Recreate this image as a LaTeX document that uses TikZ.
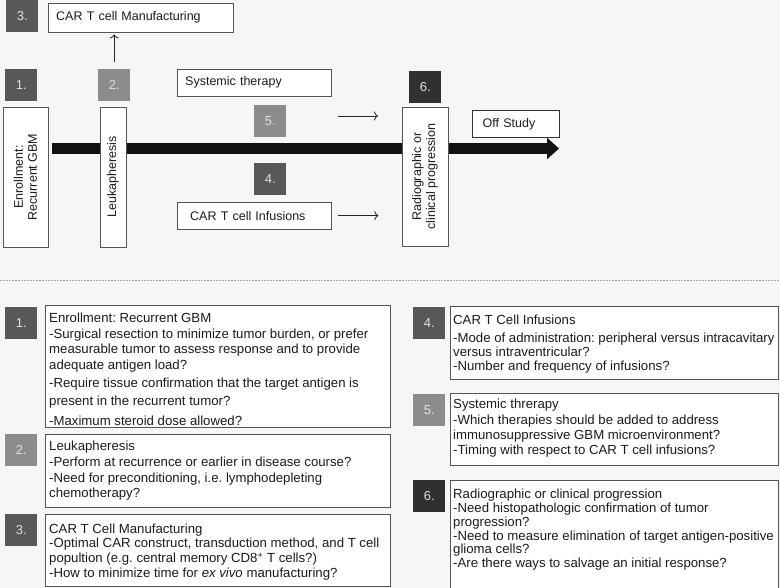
\documentclass[tikz,border=0pt]{standalone}
\usepackage{fontspec}
\setmainfont{Liberation Sans}
\usepackage{xcolor}
\usetikzlibrary{positioning,arrows.meta}
\definecolor{bgcol}{HTML}{F6F6F6}
\definecolor{sqdark}{HTML}{585858}
\definecolor{sqmid}{HTML}{8C8C8C}
\definecolor{sqblack}{HTML}{303030}
\definecolor{edgecol}{HTML}{555555}
\definecolor{txtcol}{HTML}{1C1C1C}
\pgfdeclarelayer{canvas}
\pgfdeclarelayer{behind}
\pgfsetlayers{canvas,behind,main}
\frenchspacing

\begin{document}
\begin{tikzpicture}
      [ x=1pt, y=-1pt,
        every node/.style={text=txtcol},
        numsq/.style={anchor=north west, minimum width=32pt, minimum height=32pt,
                      inner sep=0pt, text=white!88!black,
                      font=\fontsize{13}{15}\selectfont},
        hbox/.style={draw=edgecol, fill=white, anchor=north west, align=left,
                     inner xsep=8pt, inner ysep=0pt,
                     font=\fontsize{12.5}{14}\selectfont},
        vbox/.style={draw=edgecol, fill=white, rotate=90, align=center,
                     inner sep=0pt, font=\fontsize{12.5}{14}\selectfont},
        infobox/.style={draw=edgecol, fill=white, anchor=north west, inner sep=0pt},
        infotext/.style={anchor=north west, inner sep=0pt, align=left,
                         font=\fontsize{13.2}{#1}\selectfont},
        timeline/.style={line width=11pt, draw=black!93,
                         -{Triangle[length=12pt,width=21pt]}},
        thinarrow/.style={line width=0.8pt, draw=black!85,
                          -{To[length=4pt,width=9pt]}}
      ]
      \useasboundingbox (0,0) rectangle (780,588);
      \begin{pgfonlayer}{canvas}
        \fill[bgcol] (0,0) rectangle (780,588);
      \end{pgfonlayer}

      % timeline overview
      \node[numsq, fill=sqdark]   (s3) at (6,0)    {3.};
      \node[hbox, minimum width=185pt, minimum height=29pt, text width=169pt]
                                  (mfg) at (48,3)  {CAR T cell Manufacturing};
      \node[numsq, fill=sqdark]   (s1) at (5,69)   {1.};
      \node[numsq, fill=sqmid]    (s2) at (98,69)  {2.};
      \node[hbox, minimum width=154pt, minimum height=27pt, text width=138pt]
                                  (sys) at (177,69) {Systemic therapy};
      \node[numsq, fill=sqmid]    (s5) at (254,105) {5.};
      \node[numsq, fill=sqdark]   (s4) at (254,163) {4.};
      \node[hbox, minimum width=154pt, minimum height=27pt, text width=138pt]
                                  (inf) at (177,202) {\hspace{5pt}CAR T cell Infusions};
      \node[numsq, fill=sqblack]  (s6) at (409,71)  {6.};

      \node[vbox, minimum width=140pt, minimum height=45pt]
                                  (enroll) at (25.5,177) {Enrollment:\\Recurrent GBM};
      \node[vbox, minimum width=140pt, minimum height=26pt]
                                  (leuk) at (113,177) {Leukapheresis};
      \node[vbox, minimum width=139pt, minimum height=46pt]
                                  (rad) at (425,176.5) {Radiographic or\\clinical progression};
      \node[hbox, draw=black!80, line width=1.4pt, minimum width=87pt,
            minimum height=27pt, text width=67pt, inner xsep=10pt]
                                  (off) at (472,110) {Off Study};

      \coordinate (tip) at (559,148.5);
      \begin{pgfonlayer}{behind}
        \draw[timeline, shorten <=4pt] (enroll.south |- tip) -- (tip);
      \end{pgfonlayer}

      \draw[thinarrow, shorten <=7pt, shorten >=2pt] (s2.north) -- (s2.north |- mfg.south);
      \coordinate (a5) at (338,116);
      \draw[thinarrow] (a5) -- ++(40,0);
      \draw[thinarrow, shorten <=7pt] (inf.east) -- ++(47,0);

      \draw[gray!70, line width=0.6pt, dash pattern=on 1.6pt off 1.4pt] (0,280) -- (780,280);

      % open questions, left column
      \node[numsq, fill=sqdark] (q1) at (5,307) {1.};
      \node[infobox, minimum width=345pt, minimum height=122pt] (b1) at (45,305) {};
      \node[infotext=15.5] (t1) at ([xshift=4pt,yshift=-8pt]b1.north west)
        {Enrollment: Recurrent GBM\\
         -Surgical resection to minimize tumor burden, or prefer\\
         measurable tumor to assess response and to provide\\
         adequate antigen load?\\[2.5pt]
         -Require tissue confirmation that the target antigen is\\[3pt]
         present in the recurrent tumor?\\[4pt]
         -Maximum steroid dose allowed?};

      \node[numsq, fill=sqmid] (q2) at (5,434) {2.};
      \node[infobox, minimum width=345pt, minimum height=73pt] (b2) at (45,434) {};
      \node[infotext=15.7] (t2) at ([xshift=4pt,yshift=-7pt]b2.north west)
        {Leukapheresis\\
         -Perform at recurrence or earlier in disease course?\\
         -Need for preconditioning, i.e. lymphodepleting\\
         chemotherapy?};

      \node[numsq, fill=sqdark] (q3) at (5,514) {3.};
      \node[infobox, minimum width=345pt, minimum height=72pt] (b3) at (45,514) {};
      \node[infotext=14.7] (t3) at ([xshift=4pt,yshift=-9.5pt]b3.north west)
        {CAR T Cell Manufacturing\\
         -Optimal CAR construct, transduction method, and T cell\\
         popultion (e.g. central memory CD8\textsuperscript{+} T cells?)\\
         -How to minimize time for \textit{ex vivo} manufacturing?};

      % open questions, right column
      \node[numsq, fill=sqdark] (q4) at (413,307) {4.};
      \node[infobox, minimum width=328pt, minimum height=73pt] (b4) at (450,306) {};
      \node[infotext=14] (t4) at ([xshift=3pt,yshift=-9pt]b4.north west)
        {CAR T Cell Infusions\\[3.5pt]
         -Mode of administration: peripheral versus intracavitary\\
         versus intraventricular?\\
         -Number and frequency of infusions?};

      \node[numsq, fill=sqmid] (q5) at (413,394) {5.};
      \node[infobox, minimum width=328pt, minimum height=72pt] (b5) at (450,393) {};
      \node[infotext=15.3] (t5) at ([xshift=3pt,yshift=-6pt]b5.north west)
        {Systemic threrapy\\
         -Which therapies should be added to address\\
         immunosuppressive GBM microenvironment?\\
         -Timing with respect to CAR T cell infusions?};

      \node[numsq, fill=sqblack] (q6) at (413,480) {6.};
      \node[infobox, minimum width=328pt, minimum height=120pt] (b6) at (450,480) {};
      \node[infotext=13.8] (t6) at ([xshift=3pt,yshift=-9pt]b6.north west)
        {Radiographic or clinical progression\\
         -Need histopathologic confirmation of tumor\\
         progression?\\
         -Need to measure elimination of target antigen-positive\\
         glioma cells?\\
         -Are there ways to salvage an initial response?};
    \end{tikzpicture}
\end{document}
